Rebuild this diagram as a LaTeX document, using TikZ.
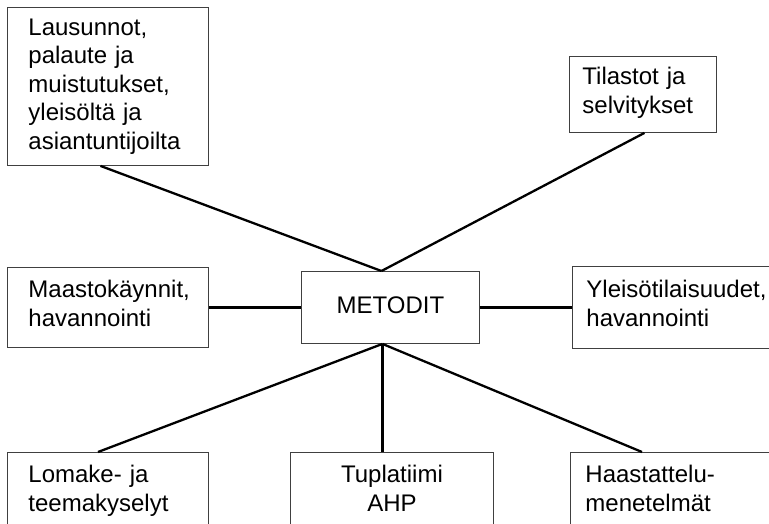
\documentclass[tikz,border=0pt]{standalone}
\usepackage{fontspec}
\setmainfont{Liberation Sans}
\usetikzlibrary{positioning}

\tikzset{
  box/.style={draw=black!75, line width=0.9pt, anchor=north west, align=left,
    font=\fontsize{24}{28.5}\selectfont, minimum height=76pt, inner ysep=0pt},
  link/.style={line width=2.3pt}
}

\begin{document}
\begin{tikzpicture}[x=1pt, y=-1pt]
\useasboundingbox (0,0) rectangle (769,524);
\clip (0,0) rectangle (769,524);

\node[box, text width=159pt, inner xsep=21pt, minimum height=158pt] (lausunnot) at (7,7)
  {Lausunnot,\\palaute ja\\muistutukset,\\yleisöltä ja\\asiantuntijoilta};
\node[box, text width=121pt, inner xsep=13pt] (tilastot) at (569,56) {Tilastot ja\\selvitykset\strut};
\node[box, align=center, minimum width=178pt, minimum height=72pt] (metodit) at (301,271) {METODIT\strut};
\node[box, text width=159pt, inner xsep=21pt, minimum height=80pt] (maasto) at (7,267) {Maastokäynnit,\\havannointi\strut};
\node[box, text width=200pt, inner xsep=14pt, minimum height=82pt] (yleiso) at (572,266) {Yleisötilaisuudet,\\havannointi\strut};
\node[box, text width=159pt, inner xsep=21pt, minimum height=80pt] (lomake) at (7,452) {Lomake- ja\\teemakyselyt\strut};
\node[box, align=center, minimum width=203pt, minimum height=80pt] (tupla) at (290,452) {Tuplatiimi\\AHP\strut};
\node[box, text width=190pt, inner xsep=15pt, minimum height=80pt] (haast) at (570,452) {Haastattelu-\\menetelmät\strut};

\coordinate (hubtop) at ([xshift=-9pt]metodit.north);
\coordinate (hubbottom) at ([xshift=-8pt]metodit.south);

\draw[link] ([xshift=-7.5pt]lausunnot.south) -- (hubtop);
\draw[link] ([xshift=1.5pt]tilastot.south) -- (hubtop);
\draw[link] (maasto.east) -- (metodit.west);
\draw[link] (metodit.east) -- (yleiso.west);

\draw[link] (hubbottom) -- ([xshift=91pt]lomake.north west);
\draw[link] (hubbottom) -- (hubbottom |- tupla.north);
\draw[link] (hubbottom) -- ([xshift=72pt]haast.north west);

\end{tikzpicture}
\end{document}
